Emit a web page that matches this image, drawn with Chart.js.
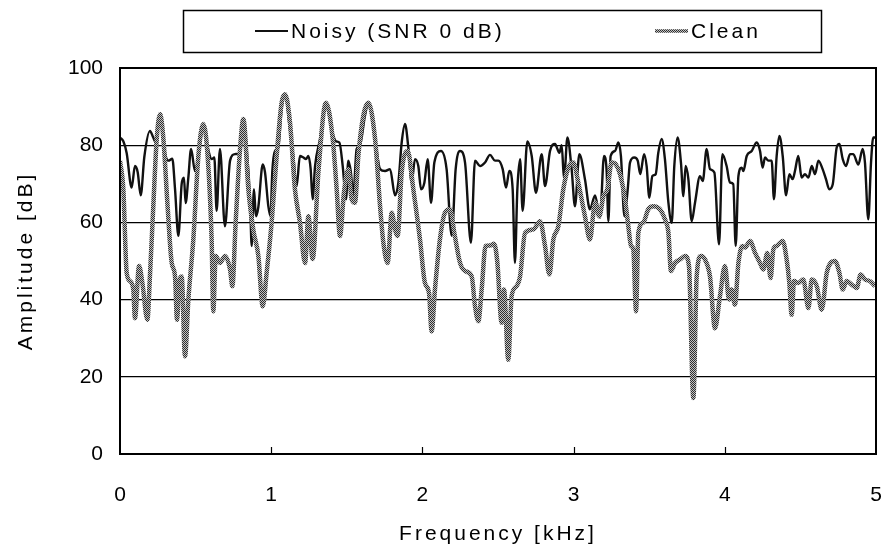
<!DOCTYPE html>
<html>
<head>
<meta charset="utf-8">
<title>Noisy vs Clean spectrum</title>
<script src="https://cdn.jsdelivr.net/npm/chart.js@4.4.0/dist/chart.umd.min.js"></script>
<style>
  html, body { margin: 0; padding: 0; background: #fff; }
  #wrap { width: 883px; height: 551px; }
</style>
</head>
<body>
<div id="wrap"><canvas id="spec" width="883" height="551"></canvas></div>
<script>
// values: frequency in kHz, amplitude in dB
const noisyFreq = [
  0.000, 0.022, 0.044, 0.077, 0.099, 0.117, 0.137, 0.161, 0.198, 0.220, 0.236, 0.265, 0.298, 0.320, 0.346,
  0.364, 0.386, 0.408, 0.423, 0.434, 0.452, 0.470, 0.496, 0.518, 0.551, 0.580, 0.606, 0.624, 0.639, 0.661,
  0.694, 0.728, 0.761, 0.794, 0.816, 0.838, 0.860, 0.871, 0.886, 0.899, 0.915, 0.944, 0.959, 0.981, 0.996,
  1.007, 1.025, 1.047, 1.069, 1.091, 1.124, 1.146, 1.168, 1.190, 1.213, 1.230, 1.246, 1.261, 1.274, 1.290,
  1.323, 1.362, 1.400, 1.429, 1.451, 1.473, 1.495, 1.510, 1.526, 1.543, 1.565, 1.587, 1.620, 1.642, 1.687,
  1.720, 1.753, 1.786, 1.819, 1.841, 1.863, 1.885, 1.907, 1.929, 1.951, 1.973, 1.991, 2.013, 2.035, 2.057,
  2.079, 2.123, 2.160, 2.194, 2.220, 2.249, 2.282, 2.321, 2.348, 2.381, 2.414, 2.447, 2.480, 2.502, 2.531,
  2.553, 2.575, 2.597, 2.612, 2.628, 2.646, 2.663, 2.694, 2.723, 2.751, 2.789, 2.811, 2.844, 2.877, 2.906,
  2.921, 2.937, 2.959, 2.987, 3.009, 3.038, 3.075, 3.108, 3.142, 3.175, 3.201, 3.219, 3.230, 3.245, 3.274,
  3.296, 3.313, 3.336, 3.358, 3.373, 3.402, 3.424, 3.441, 3.466, 3.483, 3.501, 3.521, 3.543, 3.560, 3.582,
  3.604, 3.627, 3.649, 3.666, 3.688, 3.710, 3.726, 3.741, 3.759, 3.781, 3.803, 3.836, 3.854, 3.880, 3.902,
  3.931, 3.962, 3.984, 4.012, 4.034, 4.056, 4.072, 4.090, 4.112, 4.123, 4.145, 4.178, 4.211, 4.233, 4.250,
  4.266, 4.288, 4.310, 4.325, 4.343, 4.361, 4.383, 4.405, 4.427, 4.449, 4.464, 4.486, 4.508, 4.530, 4.553,
  4.575, 4.597, 4.619, 4.647, 4.669, 4.691, 4.714, 4.740, 4.758, 4.780, 4.802, 4.828, 4.850, 4.883, 4.912,
  4.927, 4.949, 4.967, 4.982, 5.000
];
const noisyAmp = [
  82, 81, 78, 69, 74.6, 73, 67, 77, 83.7, 82, 80.7, 88, 78, 76, 76.5,
  68.6, 56.5, 70, 71.6, 65, 71.6, 79, 73.3, 77, 85, 79.4, 76.4, 76.8, 63, 79,
  59, 76, 77.7, 78, 86.8, 79, 66, 53.9, 68.6, 61.6, 64, 75, 73, 64.2, 61.6,
  73, 78.5, 79.4, 89.4, 93.2, 84, 77.2, 69.4, 77.2, 76.8, 76.4, 77.2, 73.8, 66, 74.6,
  81.6, 91, 84, 81, 80.7, 74.6, 66, 76, 73.3, 67, 79, 80, 87.6, 91, 81.6,
  73.8, 73.3, 73.8, 67, 70.3, 80.7, 85.5, 79.4, 70.3, 76.4, 74.6, 68.6, 70.3, 76.4, 65.1,
  75.5, 78.5, 73.8, 56.5, 73.8, 78.5, 75.5, 54.7, 76, 74.6, 75.5, 77.5, 76, 76, 73.8,
  69, 73.3, 68.6, 49.5, 68.6, 76.4, 63, 81, 77.2, 67.7, 77.7, 69.4, 78.5, 80.3, 78,
  80, 71.2, 82, 73.8, 64.2, 77.7, 71.2, 63.4, 67, 61.2, 77.2, 73, 60.3, 77.2, 78.5,
  80.7, 77.2, 61.6, 68.6, 75.5, 76.8, 76, 72.5, 77.7, 74.6, 66.4, 72, 72.5, 78, 81.6,
  76.4, 65.1, 59.9, 74.6, 82, 75.5, 66.8, 74.6, 71.2, 60.3, 65.1, 72, 70.7, 79, 73.8,
  72.9, 54.3, 77.7, 74.6, 70.3, 69.9, 53.9, 72, 74.2, 73.3, 77.2, 78.5, 80.7, 78.5, 74.2,
  76.8, 76, 76, 66, 77.2, 82.4, 77.2, 67, 72.5, 71.2, 73.3, 77.2, 71.6, 72.5, 71.6,
  74.6, 72.5, 76, 73.8, 71.2, 68.6, 69.9, 79.4, 80.3, 76.4, 74.6, 77.7, 77.7, 75, 79,
  75.5, 60.8, 75.5, 82, 82
];
const cleanFreq = [
  0.000, 0.022, 0.044, 0.066, 0.088, 0.099, 0.126, 0.148, 0.181, 0.198, 0.220, 0.243, 0.265, 0.287, 0.315,
  0.342, 0.364, 0.377, 0.392, 0.408, 0.430, 0.452, 0.485, 0.518, 0.551, 0.580, 0.606, 0.617, 0.633, 0.661,
  0.694, 0.728, 0.743, 0.765, 0.794, 0.816, 0.849, 0.882, 0.915, 0.944, 0.970, 1.003, 1.036, 1.069, 1.091,
  1.124, 1.157, 1.190, 1.224, 1.246, 1.274, 1.312, 1.362, 1.407, 1.433, 1.455, 1.481, 1.510, 1.532, 1.554,
  1.576, 1.609, 1.642, 1.687, 1.720, 1.742, 1.770, 1.797, 1.819, 1.836, 1.863, 1.903, 1.940, 1.984, 2.017,
  2.044, 2.061, 2.083, 2.116, 2.149, 2.183, 2.211, 2.249, 2.282, 2.326, 2.348, 2.370, 2.392, 2.418, 2.447,
  2.474, 2.496, 2.524, 2.540, 2.568, 2.590, 2.623, 2.646, 2.679, 2.734, 2.778, 2.811, 2.840, 2.866, 2.899,
  2.932, 2.965, 2.998, 3.031, 3.075, 3.108, 3.142, 3.170, 3.197, 3.223, 3.252, 3.280, 3.307, 3.340, 3.362,
  3.380, 3.395, 3.413, 3.428, 3.461, 3.494, 3.527, 3.571, 3.604, 3.627, 3.644, 3.671, 3.704, 3.737, 3.763,
  3.792, 3.814, 3.843, 3.869, 3.902, 3.935, 3.968, 4.001, 4.028, 4.045, 4.067, 4.090, 4.116, 4.134, 4.167,
  4.200, 4.233, 4.255, 4.281, 4.303, 4.321, 4.343, 4.383, 4.409, 4.427, 4.442, 4.458, 4.486, 4.519, 4.553,
  4.575, 4.608, 4.641, 4.674, 4.700, 4.729, 4.758, 4.780, 4.806, 4.839, 4.872, 4.899, 4.927, 4.960, 4.993
];
const cleanAmp = [
  76, 68.6, 47, 44.8, 42.6, 35.2, 48.7, 44.3, 34.8, 46, 64, 81.6, 88, 81.6, 64,
  49.5, 46, 34.8, 44.3, 46, 25.3, 40, 55.6, 77, 85.5, 77, 55.6, 37, 51.3, 49.5,
  51.3, 47.8, 43.5, 60, 79, 86.8, 68.6, 58, 51.3, 38.3, 47, 60, 77.2, 91, 93.2,
  86, 68.6, 60, 49.5, 61.6, 50.5, 73, 91, 81.6, 68.6, 56.5, 67.7, 73.8, 66, 65.1,
  77.2, 87.6, 91, 81.6, 64.2, 54.7, 49.5, 62.5, 58.2, 56.5, 73, 78.5, 68.6, 55.6, 44.3,
  41.7, 31.8, 42.6, 55.6, 62.5, 63.4, 57.3, 49.5, 47.4, 46, 38.3, 34.4, 42.6, 53.9, 54,
  54.5, 49.5, 34, 42.6, 24.4, 40.9, 43.5, 46, 57.3, 58.2, 60.3, 53.9, 46.5, 55.6, 59,
  68.6, 74.2, 75.5, 70.3, 61.6, 55.6, 65.1, 61.6, 66.8, 68.6, 75.5, 75, 72.5, 66, 59,
  53.9, 53, 37, 57.3, 60, 63.4, 64.2, 63.4, 60.8, 57.3, 47.4, 49.5, 50.4, 51.3, 48.7,
  14.5, 46, 51.3, 50.4, 46, 32.6, 40.9, 48.7, 40, 42.6, 38.7, 49.5, 53.9, 53.5, 55.2,
  52.1, 49.5, 47.8, 52.1, 45.6, 53, 53.9, 55.2, 50.4, 44.3, 36.1, 44.8, 44.3, 45.2, 37.8,
  45.2, 43.5, 37.4, 46.9, 49.5, 50, 46.9, 42.6, 44.8, 43.9, 43, 46.5, 45.2, 44.8, 43.5
];
const ampTicks = [0, 20, 40, 60, 80, 100];
const freqTicks = [0, 1, 2, 3, 4, 5];

const FONT = "'Liberation Sans', Arial, sans-serif";
const canvas = document.getElementById('spec');
const ctx = canvas.getContext('2d');

// grey halftone look of the clean trace
function halftone() {
  const c = document.createElement('canvas');
  c.width = 2; c.height = 2;
  const g = c.getContext('2d');
  g.fillStyle = '#c2c2c2';
  g.fillRect(0, 0, 2, 2);
  g.fillStyle = '#2e2e2e';
  g.fillRect(0, 0, 1, 1);
  g.fillRect(1, 1, 1, 1);
  return ctx.createPattern(c, 'repeat');
}

const toPoints = (xs, ys) => xs.map((x, i) => ({ x: x, y: ys[i] }));

// the original font is loosely spaced in words, tight in numbers
const spacing = {
  id: 'spacing',
  beforeDraw(chart) { chart.ctx.letterSpacing = '3px'; },
  afterDatasetsDraw(chart) { chart.ctx.letterSpacing = '0px'; }
};

// box around the plot and the small inward ticks on the x axis
const frame = {
  id: 'frame',
  afterDatasetsDraw(chart) {
    const a = chart.chartArea, c = chart.ctx, xs = chart.scales.x;
    c.save();
    c.strokeStyle = '#000';
    c.lineWidth = 2;
    c.strokeRect(a.left, a.top, a.right - a.left, a.bottom - a.top);
    c.lineWidth = 1.2;
    freqTicks.slice(1, -1).forEach(f => {
      const px = Math.round(xs.getPixelForValue(f)) + 0.5;
      c.beginPath();
      c.moveTo(px, a.bottom);
      c.lineTo(px, a.bottom - 7);
      c.stroke();
    });
    c.restore();
  }
};

// boxed legend on top of the figure
const boxLegend = {
  id: 'boxLegend',
  afterDraw(chart) {
    const c = chart.ctx;
    c.save();
    c.letterSpacing = '3px';
    c.strokeStyle = '#000';
    c.lineWidth = 1.5;
    c.strokeRect(183.5, 10.5, 638, 42);
    const spots = [255, 655];
    c.font = '21px ' + FONT;
    c.fillStyle = '#000';
    c.textBaseline = 'middle';
    chart.data.datasets.forEach((ds, i) => {
      const x0 = spots[i];
      c.strokeStyle = ds.borderColor;
      c.lineWidth = i === 0 ? 2 : 3.5;
      c.beginPath();
      c.moveTo(x0, 31);
      c.lineTo(x0 + 33, 31);
      c.stroke();
      c.fillText(ds.label, x0 + 36, 32);
    });
    c.restore();
  }
};

new Chart(canvas, {
  type: 'line',
  data: {
    datasets: [
      {
        label: 'Noisy (SNR 0 dB)',
        data: toPoints(noisyFreq, noisyAmp),
        borderColor: '#111',
        borderWidth: 2.4,
        pointRadius: 0,
        cubicInterpolationMode: 'monotone',
        order: 2
      },
      {
        label: 'Clean',
        data: toPoints(cleanFreq, cleanAmp),
        borderColor: halftone(),
        borderWidth: 4.5,
        pointRadius: 0,
        cubicInterpolationMode: 'monotone',
        order: 1
      }
    ]
  },
  options: {
    responsive: false,
    animation: false,
    events: [],
    layout: { padding: { top: 68, right: 7, bottom: 0, left: 0 } },
    plugins: {
      legend: { display: false },
      tooltip: { enabled: false }
    },
    scales: {
      x: {
        type: 'linear',
        min: 0,
        max: 5,
        afterBuildTicks: s => { s.ticks = freqTicks.map(v => ({ value: v })); },
        afterFit: s => { s.height = 97; s.paddingLeft = 0; s.paddingRight = 0; },
        grid: { display: false, drawTicks: false },
        border: { display: true, color: '#000', width: 2 },
        ticks: { color: '#000', padding: 29, z: 1, maxRotation: 0, font: { family: FONT, size: 21 } },
        title: {
          display: true,
          text: 'Frequency [kHz]',
          color: '#000',
          font: { family: FONT, size: 21 },
          padding: { top: 0, bottom: 4 }
        }
      },
      y: {
        min: 0,
        max: 100,
        afterBuildTicks: s => { s.ticks = ampTicks.map(v => ({ value: v })); },
        afterFit: s => { s.width = 120; },
        grid: { color: '#000', lineWidth: 1.2, drawTicks: false },
        border: { display: true, color: '#000', width: 2 },
        ticks: { color: '#000', padding: 17, z: 1, font: { family: FONT, size: 21 } },
        title: {
          display: true,
          text: 'Amplitude [dB]',
          color: '#000',
          font: { family: FONT, size: 21 },
          padding: { top: 14, bottom: 0 }
        }
      }
    }
  },
  plugins: [spacing, frame, boxLegend]
});
</script>
</body>
</html>
